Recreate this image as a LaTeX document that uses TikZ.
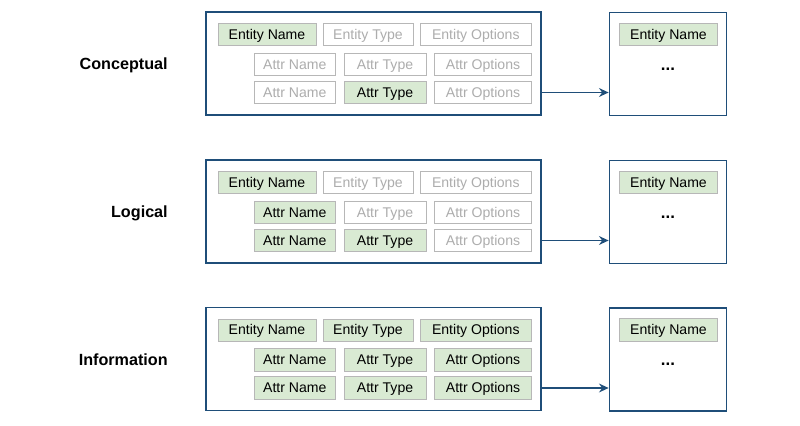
\documentclass[tikz,border=0pt]{standalone}
\usepackage{fontspec}
\setmainfont{Liberation Sans}
\usetikzlibrary{arrows.meta,positioning,calc}

\definecolor{boxblue}{HTML}{1F4E79}
\definecolor{cellgreen}{HTML}{D9EAD3}
\definecolor{cellline}{HTML}{B7B7B7}
\definecolor{ghosttext}{HTML}{ADADAD}

\tikzset{
  cell/.style={draw=cellline, line width=0.6pt, minimum height=0.56cm, inner sep=0pt,
    text height=8pt, text depth=1.2pt, font=\fontsize{10}{12}\selectfont},
  filled/.style={cell, fill=cellgreen, text=black},
  ghost/.style={cell, fill=white, text=ghosttext},
  panel/.style={draw=boxblue, line width=1.2pt, minimum height=2.575cm, inner sep=0pt},
  level/.style={anchor=east, inner sep=0pt, text height=8.6pt, text depth=0pt,
    font=\fontsize{11.5}{13}\selectfont\bfseries},
  link/.style={draw=boxblue, line width=1.2pt, -{Stealth[length=2.4mm,width=2.2mm]}}
}

\begin{document}
\begin{tikzpicture}[x=0.025cm, y=-0.025cm]
  \useasboundingbox (0,0) rectangle (800,426);

  \foreach \p/\oy/\lbl/\an/\rest in {1/0/Conceptual/ghost/ghost, 2/148/Logical/filled/ghost, 3/295.5/Information/filled/filled} {
    \begin{scope}[shift={(0,\oy)}]
      % level name and boxes
      \node (lv\p) [level] at (168,63.5) {\lbl};
      \node (box\p) [panel, minimum width=8.375cm] at (373.2,63.4) {};
      \node (res\p) [panel, minimum width=2.925cm] at (668,64) {};

      % entity row
      \node (en\p) [filled, minimum width=2.45cm] at (267,34.7) {Entity Name};
      \node (et\p) [\rest, minimum width=2.25cm] at (368,34.7) {Entity Type};
      \node (eo\p) [\rest, minimum width=2.775cm] at (475.8,34.7) {Entity Options};

      % attribute rows
      \node (an\p a) [\an, minimum width=2.025cm] at (294.8,64.5) {Attr Name};
      \node (at\p a) [\rest, minimum width=2.05cm] at (385,64.5) {Attr Type};
      \node (ao\p a) [\rest, minimum width=2.425cm] at (483,64.5) {Attr Options};
      \node (an\p b) [\an, minimum width=2.025cm] at (294.8,92.5) {Attr Name};
      \node (at\p b) [filled, minimum width=2.05cm] at (385,92.5) {Attr Type};
      \node (ao\p b) [\rest, minimum width=2.425cm] at (483,92.5) {Attr Options};

      % result box
      \node (re\p) [filled, minimum width=2.45cm] at (668.5,34.5) {Entity Name};
      \node (dots\p) [font=\fontsize{12}{14}\selectfont\bfseries] at (668,69) {...};

      \draw [link] (box\p.east |- ao\p b) -- (res\p.west |- ao\p b);
    \end{scope}
  }
\end{tikzpicture}
\end{document}
